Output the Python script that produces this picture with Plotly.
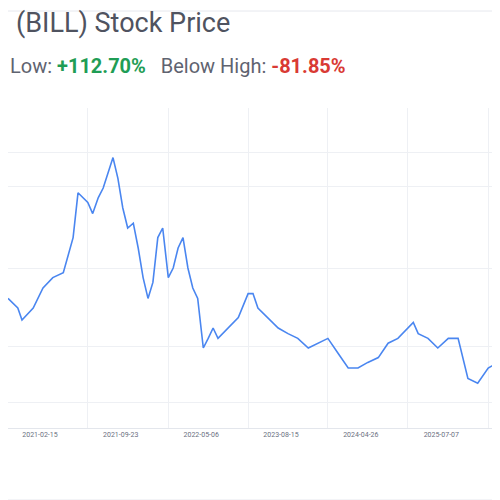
import plotly.graph_objects as go

# trading-day position and closing price
day = [0, 1.4, 2, 3.6, 5, 6.4, 7.9, 9.3, 10, 10.7, 11.4, 12.1, 12.9, 13.6, 14.3, 15, 15.7,
       16.4, 17.1, 17.9, 18.6, 19.3, 20, 20.7, 21.4, 22.1, 22.9, 23.6, 24.3, 25, 25.7, 26.4,
       27.1, 27.9, 28.6, 29.3, 30, 31.4, 32.9, 34.3, 35, 35.7, 37.1, 38.6, 40, 41.4, 42.9,
       44.3, 45.7, 47.1, 48.6, 50, 51.4, 52.9, 54.3, 55.7, 57.1, 57.9, 58.6, 60, 61.4, 62.9,
       64.3, 65.7, 67.1, 68.6, 70, 70.7]
price = [81, 75, 67.5, 75, 87.5, 94, 97, 119, 147, 144, 141, 134, 144, 150, 159, 169, 156,
         137.5, 125, 128, 112.5, 94, 81, 91, 119, 125, 94, 100, 112.5, 119, 100, 87.5,
         81, 50, 56, 62.5, 56, 62.5, 69, 84, 84, 75, 69, 62.5, 59, 56, 50,
         53, 56, 47, 37.5, 37.5, 41, 44, 53, 56, 62.5, 66, 59, 56, 50, 56,
         56, 31, 28, 37.5, 41, 34]

tick_pos = [4.57, 16.1, 27.6, 39, 50.4, 61.9]
tick_labels = ["2021-02-15", "2021-09-23", "2022-05-06", "2023-08-15", "2024-04-26", "2025-07-07"]
grid_pos = [11.4, 22.9, 34.3, 45.7, 57.1, 68.6]
price_grid = [16, 51, 100, 151, 172]

fig = go.Figure()

fig.add_trace(go.Scatter(
    x=day,
    y=price,
    mode='lines',
    line=dict(color='#4a86f0', width=1.6),
    hoverinfo='skip'
))

fig.update_xaxes(
    range=[0, 70],
    tickvals=tick_pos,
    ticktext=tick_labels,
    showgrid=False,
    tickfont=dict(size=7, color='#6b6f80'),
    showline=True, linecolor='#e3e6ec', linewidth=1,
    minor=dict(tickvals=grid_pos, showgrid=True, gridcolor='#eef0f4', ticklen=0),
    zeroline=False,
    fixedrange=True
)
fig.update_yaxes(
    range=[0, 200],
    tickvals=price_grid,
    showticklabels=False,
    gridcolor='#eef0f4',
    zeroline=False,
    fixedrange=True
)

fig.add_annotation(xref='paper', yref='paper', x=0.012, y=1.265, xanchor='left', yanchor='middle',
                   text='(BILL) Stock Price', showarrow=False,
                   font=dict(family='Roboto', size=27, color='#4f5360'))
fig.add_annotation(xref='paper', yref='paper', x=0.0, y=1.13, xanchor='left', yanchor='middle',
                   text="Low: <span style='color:#1f9d55'><b>+112.70%</b></span>"
                        "   Below High: <span style='color:#d93a34'><b>-81.85%</b></span>",
                   showarrow=False, font=dict(family='Roboto', size=20, color='#5f6370'))

fig.add_shape(type='line', xref='paper', yref='paper', x0=-0.01, x1=1.02, y0=1.303, y1=1.303,
              line=dict(color='#e6e8ee', width=1))
fig.add_shape(type='line', xref='paper', yref='paper', x0=-0.01, x1=1.02, y0=-0.225, y1=-0.225,
              line=dict(color='#e6e8ee', width=1))

fig.update_layout(
    width=500, height=500,
    margin=dict(l=0, r=10, t=100, b=80),
    showlegend=False,
    plot_bgcolor='white',
    paper_bgcolor='white',
    font=dict(family='Roboto')
)

fig.write_html("out.html")
